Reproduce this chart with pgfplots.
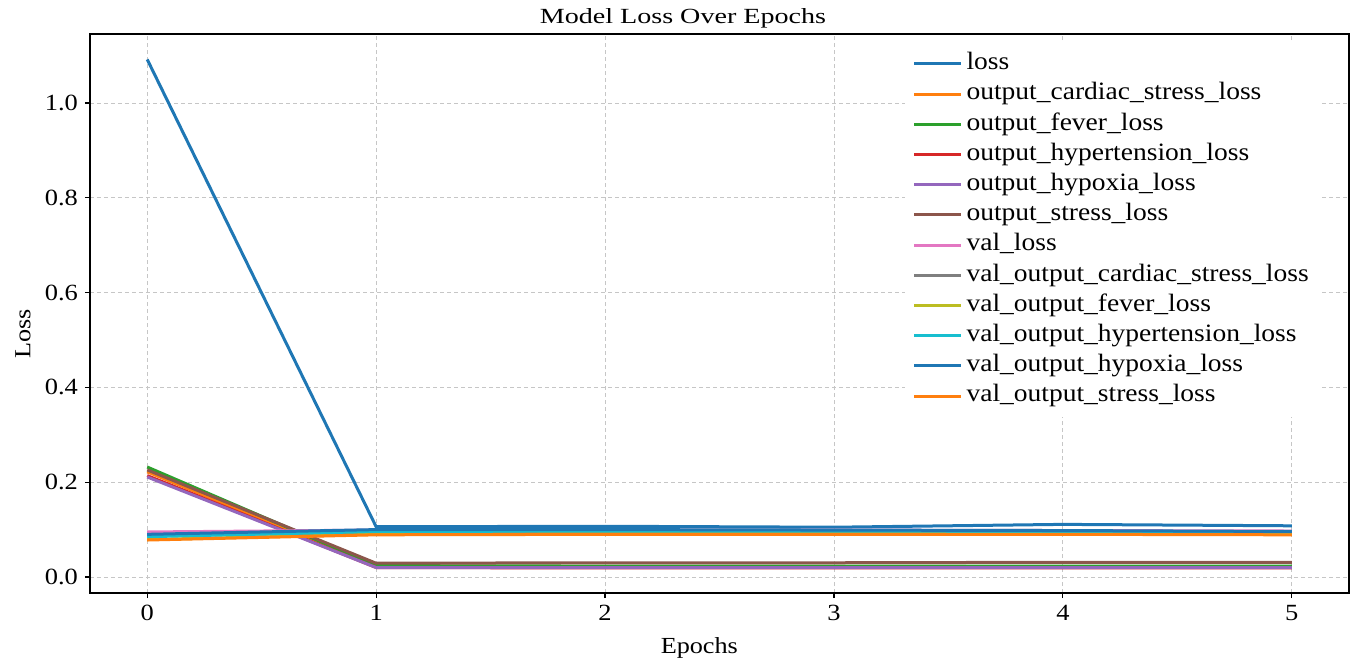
\documentclass[border=0pt]{standalone}
\usepackage{fontspec}
\setmainfont[FakeStretch=1.14]{Liberation Serif}
\newfontfamily\titlefont[FakeStretch=1.3]{Liberation Serif}
\newfontfamily\legfont[FakeStretch=1.1]{Liberation Serif}
\usepackage{pgfplots}
\pgfplotsset{compat=1.18}
\definecolor{c0}{HTML}{1F77B4}
\definecolor{c1}{HTML}{FF7F0E}
\definecolor{c2}{HTML}{2CA02C}
\definecolor{c3}{HTML}{D62728}
\definecolor{c4}{HTML}{9467BD}
\definecolor{c5}{HTML}{8C564B}
\definecolor{c6}{HTML}{E377C2}
\definecolor{c7}{HTML}{7F7F7F}
\definecolor{c8}{HTML}{BCBD22}
\definecolor{c9}{HTML}{17BECF}
\begin{document}
\begin{tikzpicture}
\begin{axis}[
  scale only axis,
  width=629.5pt, height=279.5pt,
  xmin=-0.25, xmax=5.25,
  ymin=-0.0338, ymax=1.1456,
  xtick={0,1,2,3,4,5},
  ytick={0,0.2,0.4,0.6,0.8,1.0},
  yticklabel style={/pgf/number format/.cd, fixed, fixed zerofill, precision=1},
  /pgf/number format/assume math mode=true,
  tick label style={font=\fontsize{11.6}{13}\selectfont},
  tick align=outside,
  major tick length=2.5pt,
  xtick pos=bottom, ytick pos=left,
  axis line style={line width=0.8pt},
  every tick/.style={black, line width=0.6pt},
  grid=major,
  major grid style={gray!45, dash pattern=on 2pt off 1.5pt, line width=0.4pt},
  title={\titlefont\fontsize{10.8}{12}\selectfont Model Loss Over Epochs},
  title style={at={(axis description cs:0.471,1)}, anchor=center, yshift=2pt},
  xlabel={\fontsize{11.5}{13}\selectfont Epochs},
  xlabel style={at={(axis description cs:0.484,0)}, anchor=center, yshift=-27.5pt},
  ylabel={\fontsize{11.5}{13}\selectfont Loss},
  ylabel style={at={(axis description cs:0,0.463)}, anchor=center, yshift=33.5pt},
  every axis plot/.append style={line width=1.5pt},
  legend cell align=left,
  legend image code/.code={\draw[#1] (0pt,0pt) -- (23.5pt,0pt);},
  legend style={at={(axis description cs:0.647,0.985)}, anchor=north west,
    draw=none, fill=white, inner xsep=4pt, inner ysep=3pt, row sep=0pt,
    font=\legfont\fontsize{12.5}{15}\selectfont,
    nodes={inner xsep=1.8pt, inner ysep=0pt, text height=10.5pt, text depth=4.6pt}},
]
\addplot[c0] coordinates {(0,1.092) (1,0.106) (2,0.107) (3,0.105) (4,0.111) (5,0.108)};
\addlegendentry{loss}
\addplot[c1] coordinates {(0,0.222) (1,0.022) (2,0.021) (3,0.021) (4,0.021) (5,0.021)};
\addlegendentry{output\_cardiac\_stress\_loss}
\addplot[c2] coordinates {(0,0.232) (1,0.024) (2,0.023) (3,0.023) (4,0.023) (5,0.023)};
\addlegendentry{output\_fever\_loss}
\addplot[c3] coordinates {(0,0.214) (1,0.020) (2,0.019) (3,0.019) (4,0.019) (5,0.019)};
\addlegendentry{output\_hypertension\_loss}
\addplot[c4] coordinates {(0,0.211) (1,0.020) (2,0.020) (3,0.020) (4,0.020) (5,0.020)};
\addlegendentry{output\_hypoxia\_loss}
\addplot[c5] coordinates {(0,0.226) (1,0.029) (2,0.030) (3,0.030) (4,0.031) (5,0.031)};
\addlegendentry{output\_stress\_loss}
\addplot[c6] coordinates {(0,0.095) (1,0.099) (2,0.099) (3,0.099) (4,0.098) (5,0.097)};
\addlegendentry{val\_loss}
\addplot[c7] coordinates {(0,0.087) (1,0.094) (2,0.095) (3,0.095) (4,0.095) (5,0.094)};
\addlegendentry{val\_output\_cardiac\_stress\_loss}
\addplot[c8] coordinates {(0,0.079) (1,0.090) (2,0.091) (3,0.091) (4,0.091) (5,0.090)};
\addlegendentry{val\_output\_fever\_loss}
\addplot[c9] coordinates {(0,0.085) (1,0.096) (2,0.097) (3,0.097) (4,0.096) (5,0.095)};
\addlegendentry{val\_output\_hypertension\_loss}
\addplot[c0] coordinates {(0,0.090) (1,0.100) (2,0.100) (3,0.099) (4,0.098) (5,0.096)};
\addlegendentry{val\_output\_hypoxia\_loss}
\addplot[c1] coordinates {(0,0.078) (1,0.089) (2,0.090) (3,0.090) (4,0.090) (5,0.089)};
\addlegendentry{val\_output\_stress\_loss}
\coordinate (bl) at (rel axis cs:0,0);
\end{axis}
\pgfresetboundingbox
\path (bl) ++(-45pt,-34pt) rectangle ++(676pt,330.5pt);
\end{tikzpicture}
\end{document}
